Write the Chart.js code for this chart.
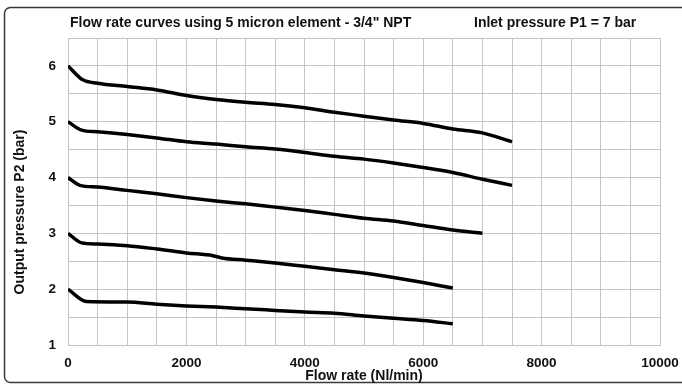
<!DOCTYPE html>
<html>
<head>
<meta charset="utf-8">
<script src="https://cdn.jsdelivr.net/npm/chart.js@4.4.1/dist/chart.umd.min.js"></script>
<style>
  html, body { margin: 0; padding: 0; background: #ffffff; }
  #wrap { width: 682px; height: 385px; position: relative; }
</style>
</head>
<body>
<div id="wrap"><canvas id="chart_flow" width="682" height="385"></canvas></div>
<script>
/* ------------------
  data
-------------------*/
var flowA = [0, 250, 500, 1000, 1500, 2000, 2500, 3000, 3500, 4000, 4500, 5000, 5500, 6000, 6500, 7000, 7500];
var presA = [6.0, 5.75, 5.69, 5.63, 5.57, 5.47, 5.40, 5.35, 5.31, 5.25, 5.17, 5.10, 5.03, 4.97, 4.87, 4.80, 4.64];

var flowB = [0, 230, 500, 1000, 1500, 2000, 2500, 3000, 3500, 4000, 4500, 5000, 5500, 6000, 6500, 7000, 7500];
var presB = [5.0, 4.85, 4.82, 4.77, 4.71, 4.64, 4.60, 4.55, 4.51, 4.45, 4.38, 4.33, 4.26, 4.18, 4.09, 3.97, 3.86];

var flowC = [0, 200, 500, 1000, 1500, 2000, 2500, 3000, 3500, 4000, 4500, 5000, 5500, 6000, 6500, 7000];
var presC = [4.0, 3.86, 3.83, 3.77, 3.71, 3.64, 3.58, 3.53, 3.47, 3.41, 3.34, 3.27, 3.22, 3.14, 3.06, 3.0];

var flowD = [0, 230, 500, 1000, 1500, 2000, 2450, 2600, 3000, 3500, 4000, 4500, 5000, 5500, 6000, 6500];
var presD = [3.0, 2.83, 2.81, 2.78, 2.72, 2.65, 2.60, 2.56, 2.52, 2.47, 2.41, 2.35, 2.29, 2.21, 2.12, 2.02];

var flowE = [0, 310, 1000, 1500, 2000, 2500, 3000, 3500, 4000, 4500, 5000, 5500, 6000, 6500];
var presE = [2.0, 1.78, 1.77, 1.73, 1.70, 1.68, 1.65, 1.62, 1.59, 1.57, 1.52, 1.48, 1.44, 1.38];

var titleText = 'Flow rate curves using 5 micron element - 3/4" NPT';
var inletText = 'Inlet pressure P1 = 7 bar';
var xTitle = 'Flow rate (Nl/min)';
var yTitle = 'Output pressure P2 (bar)';

function pts(xs, ys) {
  return xs.map(function (x, i) { return { x: x, y: ys[i] }; });
}

function curve(xs, ys) {
  return {
    data: pts(xs, ys),
    borderColor: '#000000',
    borderWidth: 3.5,
    pointRadius: 0,
    showLine: true,
    fill: false,
    cubicInterpolationMode: 'monotone'
  };
}

var FONT = '"Liberation Sans", Arial, Helvetica, sans-serif';

// frame, titles and rotated y label
var decor = {
  id: 'decor',
  beforeDraw: function (chart) {
    var ctx = chart.ctx;
    ctx.save();
    ctx.strokeStyle = '#3a3a3a';
    ctx.lineWidth = 1.5;
    ctx.beginPath();
    ctx.roundRect(4.5, 7.5, 700, 375, 6);
    ctx.stroke();
    ctx.restore();
  },
  afterDraw: function (chart) {
    var ctx = chart.ctx;
    ctx.save();
    ctx.fillStyle = '#111111';
    ctx.textBaseline = 'middle';
    ctx.textAlign = 'left';
    ctx.font = 'bold 14px ' + FONT;
    ctx.fillText(titleText, 70, 23, 378);
    ctx.fillText(inletText, 474, 23, 183);

    ctx.translate(20, 212);
    ctx.rotate(-Math.PI / 2);
    ctx.textAlign = 'center';
    ctx.font = 'bold 14px ' + FONT;
    ctx.fillText(yTitle, 0, 0, 212);
    ctx.restore();
  }
};

new Chart(document.getElementById('chart_flow'), {
  type: 'scatter',
  data: {
    datasets: [
      curve(flowA, presA),
      curve(flowB, presB),
      curve(flowC, presC),
      curve(flowD, presD),
      curve(flowE, presE)
    ]
  },
  options: {
    responsive: false,
    animation: false,
    layout: { padding: { left: 10, right: 22, top: 38, bottom: 0 } },
    plugins: {
      legend: { display: false },
      tooltip: { enabled: false },
      title: { display: false }
    },
    scales: {
      x: {
        type: 'linear',
        min: 0,
        max: 10000,
        grid: { color: '#c4c4c4', lineWidth: 1, drawTicks: false },
        border: { display: true, color: '#c4c4c4' },
        ticks: {
          stepSize: 500,
          autoSkip: false,
          maxRotation: 0,
          padding: 10,
          color: '#111111',
          font: { family: FONT, size: 13.5, weight: 'bold' },
          callback: function (v) { return v % 2000 === 0 ? String(v) : ''; }
        },
        title: {
          display: true,
          text: xTitle,
          color: '#111111',
          padding: { top: 0, bottom: 0 },
          font: { family: FONT, size: 14, weight: 'bold' }
        },
        afterFit: function (scale) {
          scale.height = 40;
          scale.paddingLeft = 0;
          scale.paddingRight = 0;
        }
      },
      y: {
        type: 'linear',
        min: 1,
        max: 6.5,
        grid: { color: '#c4c4c4', lineWidth: 1, drawTicks: false },
        border: { display: true, color: '#c4c4c4' },
        ticks: {
          stepSize: 0.5,
          autoSkip: false,
          padding: 12,
          color: '#111111',
          font: { family: FONT, size: 13.5, weight: 'bold' },
          callback: function (v) { return Number.isInteger(v) ? String(v) : ''; }
        },
        afterFit: function (scale) {
          scale.width = 58;
          scale.paddingTop = 0;
          scale.paddingBottom = 0;
        }
      }
    }
  },
  plugins: [decor]
});
</script>
</body>
</html>
